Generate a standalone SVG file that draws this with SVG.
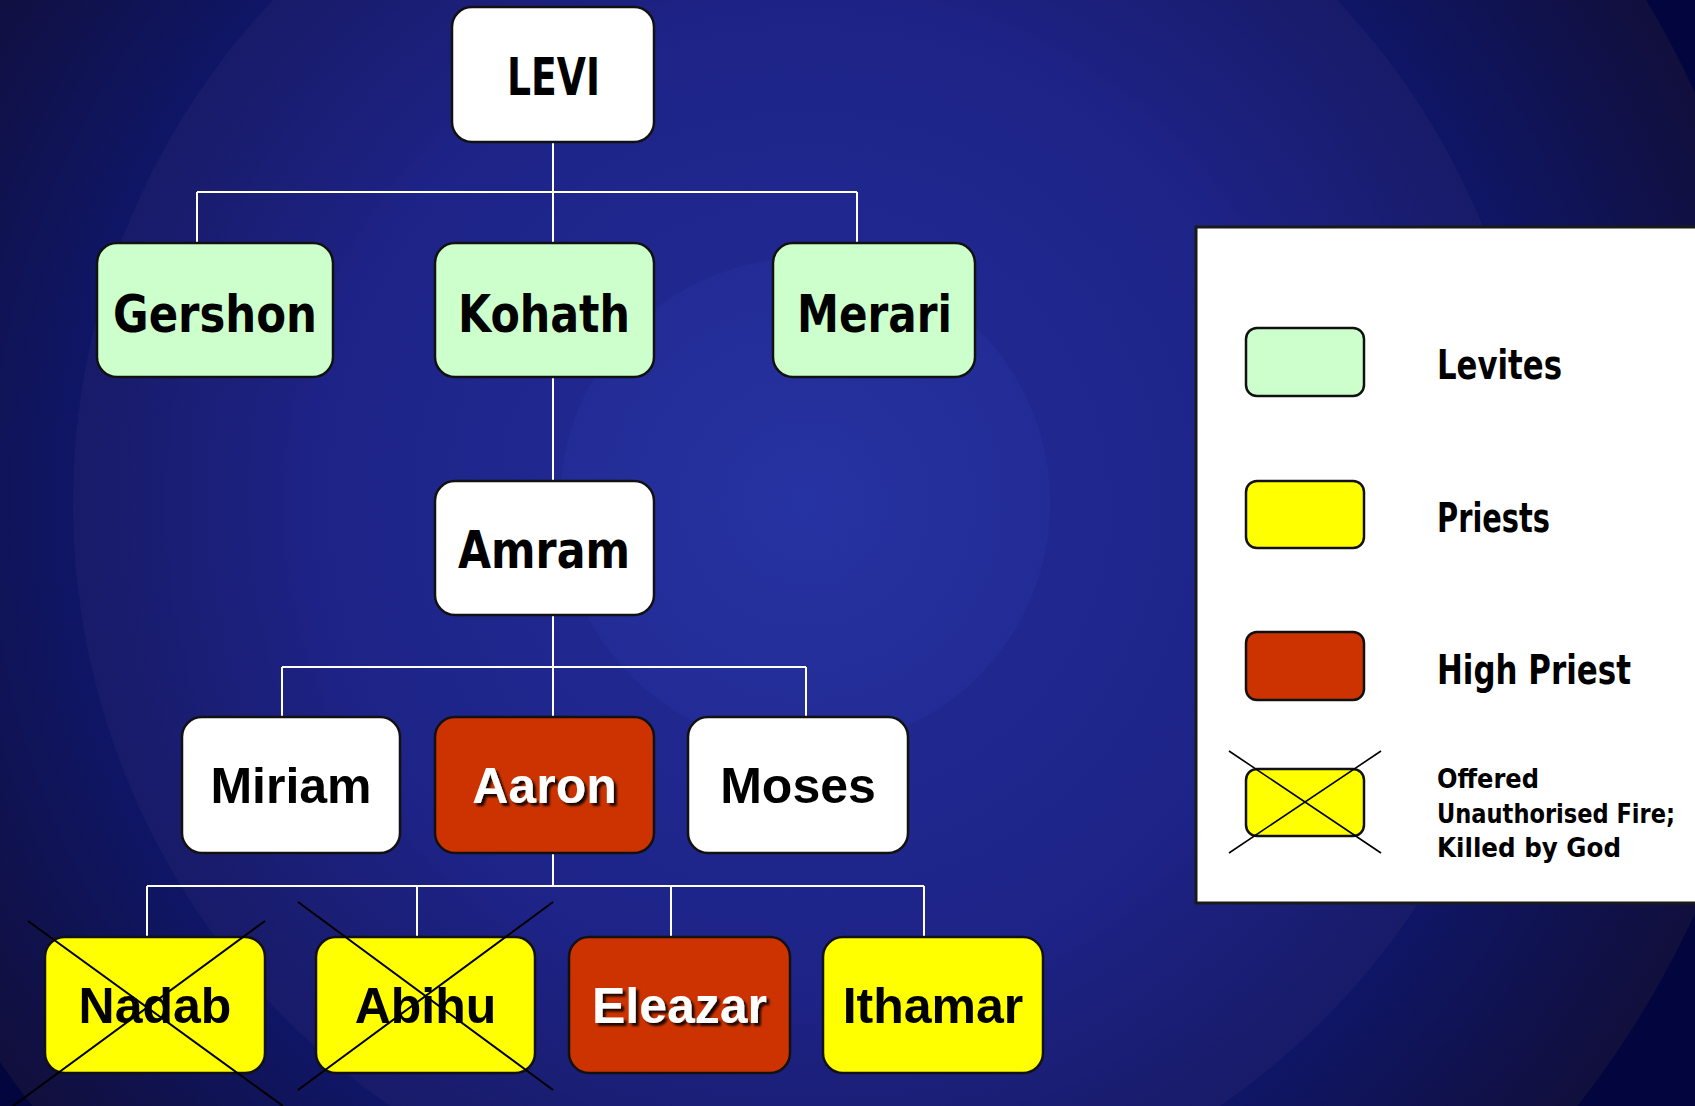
<svg xmlns="http://www.w3.org/2000/svg" width="1695" height="1106" viewBox="0 0 1695 1106">
<defs>
<radialGradient id="g4" gradientUnits="userSpaceOnUse" cx="805" cy="503" r="980">
<stop offset="0.74" stop-color="#0f1666"/>
<stop offset="1" stop-color="#110f3c"/>
</radialGradient>
<radialGradient id="g3" gradientUnits="userSpaceOnUse" cx="805" cy="503" r="732">
<stop offset="0.69" stop-color="#1d2284"/>
<stop offset="1" stop-color="#181b68"/>
</radialGradient>
<radialGradient id="g2" gradientUnits="userSpaceOnUse" cx="805" cy="503" r="508">
<stop offset="0.48" stop-color="#202890"/>
<stop offset="1" stop-color="#1d2386"/>
</radialGradient>
<radialGradient id="g1" gradientUnits="userSpaceOnUse" cx="805" cy="503" r="245">
<stop offset="0" stop-color="#2633a2"/>
<stop offset="1" stop-color="#232c96"/>
</radialGradient>
<filter id="sh" x="-10%" y="-20%" width="130%" height="150%">
<feDropShadow dx="3" dy="3" stdDeviation="1.2" flood-color="#000" flood-opacity="0.85"/>
</filter>
<style>
.box{stroke:#111;stroke-width:2.5}
.green{fill:#ccffcc}
.white{fill:#ffffff}
.red{fill:#cc3300}
.yellow{fill:#ffff00}
.cg{font-family:"DejaVu Sans","Liberation Sans",sans-serif;font-weight:bold;fill:#000}
.ar{font-family:"Liberation Sans",Arial,sans-serif;font-weight:bold;font-size:50px;text-anchor:middle;fill:#000}
.arw{fill:#fff;filter:url(#sh)}
.con{stroke:#fff;stroke-width:2;fill:none}
.x{stroke:#000;stroke-width:2;fill:none}
.lx{stroke:#000;stroke-width:1.6;fill:none}
</style>
</defs>
<rect x="0" y="0" width="1695" height="1106" fill="#03063e"/>
<circle cx="805" cy="503" r="980" fill="url(#g4)"/>
<circle cx="805" cy="503" r="732" fill="url(#g3)"/>
<circle cx="805" cy="503" r="508" fill="url(#g2)"/>
<circle cx="805" cy="503" r="245" fill="url(#g1)"/>

<g id="connectors" class="con">
<path d="M553,142 V192 M197,192 H857 M197,192 V243 M553,192 V243 M857,192 V243"/>
<path d="M553,377 V481"/>
<path d="M553,615 V667 M282,667 H806 M282,667 V717 M553,667 V717 M806,667 V717"/>
<path d="M553,853 V886 M147,886 H924 M147,886 V937 M417,886 V937 M671,886 V937 M924,886 V937"/>
</g>

<g id="levi">
<rect class="box white" x="452" y="7" width="202" height="135" rx="20"/>
<text class="cg" x="507" y="95" font-size="51" textLength="93" lengthAdjust="spacingAndGlyphs">LEVI</text>
</g>
<g id="gershon">
<rect class="box green" x="97" y="243" width="236" height="134" rx="20"/>
<text class="cg" x="113" y="332" font-size="51" textLength="204" lengthAdjust="spacingAndGlyphs">Gershon</text>
</g>
<g id="kohath">
<rect class="box green" x="435" y="243" width="219" height="134" rx="20"/>
<text class="cg" x="458" y="332" font-size="51" textLength="172" lengthAdjust="spacingAndGlyphs">Kohath</text>
</g>
<g id="merari">
<rect class="box green" x="773" y="243" width="202" height="134" rx="20"/>
<text class="cg" x="797" y="332" font-size="51" textLength="155" lengthAdjust="spacingAndGlyphs">Merari</text>
</g>
<g id="amram">
<rect class="box white" x="435" y="481" width="219" height="134" rx="20"/>
<text class="cg" x="458" y="568" font-size="51" textLength="172" lengthAdjust="spacingAndGlyphs">Amram</text>
</g>
<g id="miriam">
<rect class="box white" x="182" y="717" width="218" height="136" rx="20"/>
<text class="ar" x="291" y="803">Miriam</text>
</g>
<g id="aaron">
<rect class="box red" x="435" y="717" width="219" height="136" rx="20"/>
<text class="ar arw" x="544.5" y="803">Aaron</text>
</g>
<g id="moses">
<rect class="box white" x="688" y="717" width="220" height="136" rx="20"/>
<text class="ar" x="798" y="803">Moses</text>
</g>
<g id="nadab">
<rect class="box yellow" x="45" y="937" width="220" height="136" rx="20"/>
<text class="ar" x="155" y="1023">Nadab</text>
<path class="x" d="M28,921 L283,1106 M265,921 L13,1106"/>
</g>
<g id="abihu">
<rect class="box yellow" x="316" y="937" width="219" height="136" rx="20"/>
<text class="ar" x="425.5" y="1023">Abihu</text>
<path class="x" d="M298,902 L553,1090 M553,902 L298,1090"/>
</g>
<g id="eleazar">
<rect class="box red" x="569" y="937" width="221" height="136" rx="20"/>
<text class="ar arw" x="679.5" y="1023">Eleazar</text>
</g>
<g id="ithamar">
<rect class="box yellow" x="823" y="937" width="220" height="136" rx="20"/>
<text class="ar" x="933" y="1023">Ithamar</text>
</g>

<g id="legend">
<rect x="1196" y="227" width="520" height="676" fill="#fff" stroke="#1a1a1a" stroke-width="3"/>
<rect class="box green" x="1246" y="328" width="118" height="68" rx="11" stroke-width="2"/>
<text class="cg" x="1437" y="379" font-size="40" textLength="125" lengthAdjust="spacingAndGlyphs">Levites</text>
<rect class="box yellow" x="1246" y="481" width="118" height="67" rx="11" stroke-width="2"/>
<text class="cg" x="1437" y="532" font-size="40" textLength="113" lengthAdjust="spacingAndGlyphs">Priests</text>
<rect class="box red" x="1246" y="632" width="118" height="68" rx="11" stroke-width="2"/>
<text class="cg" x="1437" y="684" font-size="40" textLength="194" lengthAdjust="spacingAndGlyphs">High Priest</text>
<rect class="box yellow" x="1246" y="769" width="118" height="67" rx="11" stroke-width="2"/>
<path class="lx" d="M1229,751 L1381,853 M1381,751 L1229,853"/>
<text class="cg" x="1437" y="788" font-size="26" textLength="102" lengthAdjust="spacingAndGlyphs">Offered</text>
<text class="cg" x="1437" y="823" font-size="26" textLength="238" lengthAdjust="spacingAndGlyphs">Unauthorised Fire;</text>
<text class="cg" x="1437" y="857" font-size="26" textLength="184" lengthAdjust="spacingAndGlyphs">Killed by God</text>
</g>
</svg>
